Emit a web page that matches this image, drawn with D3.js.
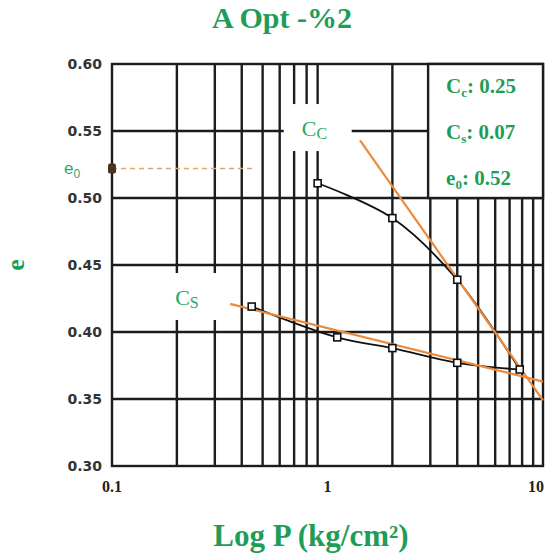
<!DOCTYPE html>
<html>
<head>
<meta charset="utf-8">
<script src="https://cdn.jsdelivr.net/npm/d3@7"></script>
<style>
    body { margin: 0; background: #fff; }
    svg { display: block; }
</style>
</head>
<body>
<div id="chart"></div>
<script>
// consolidation test readings (pressure in kg/cm2, void ratio e)
const loadP = [0.9, 2, 4, 7.8];
const loadE = [0.511, 0.485, 0.439, 0.372];
const reloadP = [0.445, 1.11, 2, 4, 7.8];
const reloadE = [0.419, 0.396, 0.388, 0.377, 0.372];

// construction lines for Cc and Cs
const ccLineP = [1.415, 10];
const ccLineE = [0.543, 0.349];
const csLineP = [0.353, 10];
const csLineE = [0.421, 0.363];

// initial void ratio
const e0Value = 0.522;
const e0LineP = [0.1, 0.46];

// axis ticks and grid
const xTicks = [0.1, 1, 10];
const yTicks = [0.30, 0.35, 0.40, 0.45, 0.50, 0.55, 0.60];
const xGrid = [0.2, 0.3, 0.4, 0.5, 0.6, 0.7, 0.8, 0.9, 2, 3, 4, 5, 6, 7, 8, 9];
const yGrid = [0.35, 0.40, 0.45, 0.50, 0.55];

// results box
const legendNames = ["C", "C", "e"];
const legendSubs = ["c", "s", "0"];
const legendValues = ["0.25", "0.07", "0.52"];
const legendBoxP = [2.93, 10];
const legendBoxE = [0.50, 0.60];

// in-plot labels
const tagNames = ["C", "C"];
const tagSubs = ["C", "S"];
const tagP = [0.92, 0.238];
const tagE = [0.5507, 0.4246];

const green = "#1f9d58";
const orange = "#ea8a3d";

let margin = { top: 64, right: 10, bottom: 90, left: 112 };
let width = 553 - margin.left - margin.right,
    height = 556 - margin.top - margin.bottom;

let svg = d3.select("#chart").append("svg")
    .attr("width", 553)
    .attr("height", 556);

let g = svg.append("g")
    .attr("transform", "translate(" + margin.left + "," + margin.top + ")");

let x = d3.scaleLog()
    .domain([0.1, 10])
    .range([0, width]);

let y = d3.scaleLinear()
    .domain([0.30, 0.60])
    .range([height, 0]);

// grid
g.selectAll(".vgrid")
    .data(xGrid)
    .enter().append("line")
    .attr("class", "vgrid")
    .attr("x1", d => x(d)).attr("x2", d => x(d))
    .attr("y1", 0).attr("y2", height)
    .attr("stroke", "#1c1c1c")
    .attr("stroke-width", 2.4);

g.selectAll(".hgrid")
    .data(yGrid)
    .enter().append("line")
    .attr("class", "hgrid")
    .attr("x1", 0).attr("x2", width)
    .attr("y1", d => y(d)).attr("y2", d => y(d))
    .attr("stroke", "#1c1c1c")
    .attr("stroke-width", 2.4);

// white patches behind the Cc / Cs labels
g.selectAll(".tagbg")
    .data(tagP)
    .enter().append("rect")
    .attr("class", "tagbg")
    .attr("x", d => x(d) - 36)
    .attr("y", (d, i) => y(tagE[i]) - 26)
    .attr("width", 68)
    .attr("height", 47)
    .attr("fill", "#fff");

// frame
g.append("rect")
    .attr("x", 0).attr("y", 0)
    .attr("width", width).attr("height", height)
    .attr("fill", "none")
    .attr("stroke", "#1c1c1c")
    .attr("stroke-width", 2.4);

// results box
g.append("rect")
    .attr("x", x(legendBoxP[0]))
    .attr("y", y(legendBoxE[1]))
    .attr("width", x(legendBoxP[1]) - x(legendBoxP[0]))
    .attr("height", y(legendBoxE[0]) - y(legendBoxE[1]))
    .attr("fill", "#fff")
    .attr("stroke", "#1c1c1c")
    .attr("stroke-width", 2.4);

let legendText = g.selectAll(".legend-text")
    .data(legendNames)
    .enter().append("text")
    .attr("class", "legend-text")
    .attr("x", x(legendBoxP[0]) + 18)
    .attr("y", (d, i) => 29 + i * 46)
    .attr("fill", green)
    .style("font-family", "'Liberation Serif', 'Times New Roman', serif")
    .style("font-weight", "bold")
    .style("font-size", "21px");
legendText.append("tspan").text(d => d);
legendText.append("tspan")
    .text((d, i) => legendSubs[i])
    .attr("dy", 4)
    .style("font-size", "13px");
legendText.append("tspan")
    .text((d, i) => ": " + legendValues[i])
    .attr("dy", -4);

// e0 reference line
g.append("line")
    .attr("x1", x(e0LineP[0])).attr("x2", x(e0LineP[1]))
    .attr("y1", y(e0Value)).attr("y2", y(e0Value))
    .attr("stroke", "#e3a56a")
    .attr("stroke-width", 1.3)
    .attr("stroke-dasharray", "5,4");

g.append("rect")
    .attr("x", x(e0LineP[0]) - 4)
    .attr("y", y(e0Value) - 5)
    .attr("width", 8).attr("height", 10)
    .attr("rx", 2)
    .attr("fill", "#4a3420");

// consolidation curves
let curve = d3.line()
    .x(d => x(d[0]))
    .y(d => y(d[1]))
    .curve(d3.curveCatmullRom);

let loadPts = loadP.map((p, i) => [p, loadE[i]]);
let reloadPts = reloadP.map((p, i) => [p, reloadE[i]]);

g.append("path")
    .datum(loadPts)
    .attr("d", curve)
    .attr("fill", "none")
    .attr("stroke", "#111")
    .attr("stroke-width", 1.8);

g.append("path")
    .datum(reloadPts)
    .attr("d", curve)
    .attr("fill", "none")
    .attr("stroke", "#111")
    .attr("stroke-width", 1.8);

// Cc and Cs tangents
let straight = d3.line()
    .x(d => x(d[0]))
    .y(d => y(d[1]));

[[ccLineP, ccLineE], [csLineP, csLineE]].forEach(pair => {
    g.append("path")
        .datum(pair[0].map((p, i) => [p, pair[1][i]]))
        .attr("d", straight)
        .attr("fill", "none")
        .attr("stroke", orange)
        .attr("stroke-width", 2.2);
});

// markers
g.selectAll(".marker")
    .data(loadPts.concat(reloadPts.slice(0, -1)))
    .enter().append("rect")
    .attr("class", "marker")
    .attr("x", d => x(d[0]) - 3.5)
    .attr("y", d => y(d[1]) - 3.5)
    .attr("width", 7).attr("height", 7)
    .attr("fill", "#fff")
    .attr("stroke", "#111")
    .attr("stroke-width", 1.6);

// Cc / Cs labels
let tags = g.selectAll(".tag")
    .data(tagNames)
    .enter().append("text")
    .attr("class", "tag")
    .attr("x", (d, i) => x(tagP[i]) - 18)
    .attr("y", (d, i) => y(tagE[i]) + 6)
    .attr("fill", "#27a862")
    .style("font-family", "'Liberation Serif', 'Times New Roman', serif")
    .style("font-size", "22px");
tags.append("tspan").text(d => d);
tags.append("tspan")
    .text((d, i) => tagSubs[i])
    .attr("dy", 3)
    .style("font-size", "16px");

// e0 label left of axis
let e0Label = svg.append("text")
    .attr("x", 64)
    .attr("y", margin.top + y(e0Value) + 5)
    .attr("fill", "#35a66e")
    .style("font-family", "'Liberation Sans', Arial, sans-serif")
    .style("font-size", "17px");
e0Label.append("tspan").text("e");
e0Label.append("tspan").text("0").attr("dy", 4).style("font-size", "12px");

// y tick labels
g.selectAll(".ylab")
    .data(yTicks)
    .enter().append("text")
    .attr("class", "ylab")
    .attr("x", -10)
    .attr("y", d => y(d))
    .attr("dy", "0.36em")
    .attr("text-anchor", "end")
    .attr("fill", "#333")
    .style("font-family", "'DejaVu Sans', sans-serif")
    .style("font-weight", "bold")
    .style("font-size", "14px")
    .text(d3.format(".2f"));

// x tick labels
g.selectAll(".xlab")
    .data(xTicks)
    .enter().append("text")
    .attr("class", "xlab")
    .attr("x", (d, i) => i === xTicks.length - 1 ? x(d) + 1 : x(d))
    .attr("y", height + 26)
    .attr("text-anchor", (d, i) => i === xTicks.length - 1 ? "end" : "middle")
    .attr("fill", "#222")
    .style("font-family", "'Liberation Serif', serif")
    .style("font-weight", "bold")
    .style("font-size", "16px")
    .text(d => d);

// titles
svg.append("text")
    .attr("x", 282)
    .attr("y", 28)
    .attr("text-anchor", "middle")
    .attr("fill", green)
    .style("font-family", "'Liberation Serif', 'Times New Roman', serif")
    .style("font-weight", "bold")
    .style("font-size", "30px")
    .text("A Opt -%2");

svg.append("text")
    .attr("x", 311)
    .attr("y", 546)
    .attr("text-anchor", "middle")
    .attr("fill", green)
    .style("font-family", "'Liberation Serif', 'Times New Roman', serif")
    .style("font-weight", "bold")
    .style("font-size", "31px")
    .text("Log P (kg/cm²)");

svg.append("text")
    .attr("transform", "translate(24," + (margin.top + height / 2) + ") rotate(-90)")
    .attr("text-anchor", "middle")
    .attr("fill", green)
    .style("font-family", "'Liberation Serif', 'Times New Roman', serif")
    .style("font-weight", "bold")
    .style("font-size", "26px")
    .text("e");
</script>
</body>
</html>
